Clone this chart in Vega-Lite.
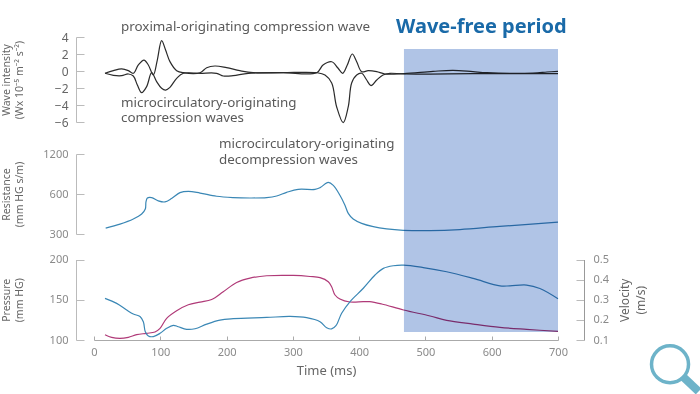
{
"$schema":"https://vega.github.io/schema/vega-lite/v6.json",
"width":464,"height":340,
"autosize":{"type":"none"},
"padding":{"left":94,"top":0,"right":142,"bottom":54},
"background":"white",
"config":{"view":{"stroke":null},"font":"Noto Sans"},
"datasets":{
"wave":[
{"time":16.6,"w":-0.27,"s":"proximal"},{"time":29.2,"w":0.04,"s":"proximal"},{"time":41.7,"w":0.24,"s":"proximal"},{"time":51.8,"w":0.04,"s":"proximal"},{"time":59.3,"w":-0.27,"s":"proximal"},{"time":66.9,"w":0.71,"s":"proximal"},{"time":75.4,"w":1.29,"s":"proximal"},{"time":82,"w":0.71,"s":"proximal"},{"time":89.5,"w":-0.47,"s":"proximal"},{"time":95.5,"w":1.29,"s":"proximal"},{"time":102,"w":3.57,"s":"proximal"},{"time":108,"w":2.47,"s":"proximal"},{"time":114.6,"w":1.1,"s":"proximal"},{"time":124.7,"w":0.04,"s":"proximal"},{"time":134.8,"w":-0.2,"s":"proximal"},{"time":160,"w":-0.2,"s":"proximal"},{"time":170,"w":0.39,"s":"proximal"},{"time":182.5,"w":0.59,"s":"proximal"},{"time":200,"w":0.39,"s":"proximal"},{"time":220,"w":0.04,"s":"proximal"},{"time":240,"w":-0.2,"s":"proximal"},{"time":285.6,"w":-0.2,"s":"proximal"},{"time":336,"w":-0.2,"s":"proximal"},{"time":345.5,"w":0.7,"s":"proximal"},{"time":358.6,"w":1.09,"s":"proximal"},{"time":368,"w":0.35,"s":"proximal"},{"time":375.2,"w":-0.27,"s":"proximal"},{"time":382.1,"w":0.7,"s":"proximal"},{"time":389.6,"w":2.0,"s":"proximal"},{"time":396.3,"w":1.09,"s":"proximal"},{"time":403.8,"w":-0.08,"s":"proximal"},{"time":413.8,"w":0.04,"s":"proximal"},{"time":426.5,"w":-0.08,"s":"proximal"},{"time":439,"w":-0.35,"s":"proximal"},{"time":467.6,"w":-0.3,"s":"proximal"},{"time":511.4,"w":-0.04,"s":"proximal"},{"time":541.6,"w":0.08,"s":"proximal"},{"time":571.7,"w":-0.08,"s":"proximal"},{"time":592.8,"w":-0.2,"s":"proximal"},{"time":662.2,"w":-0.24,"s":"proximal"},{"time":683.4,"w":-0.12,"s":"proximal"},{"time":700,"w":-0.04,"s":"proximal"},
{"time":16.6,"w":-0.27,"s":"micro"},{"time":29.2,"w":-0.51,"s":"micro"},{"time":41.7,"w":-0.55,"s":"micro"},{"time":51.8,"w":-0.35,"s":"micro"},{"time":59.3,"w":-0.59,"s":"micro"},{"time":65.4,"w":-1.65,"s":"micro"},{"time":71.9,"w":-2.55,"s":"micro"},{"time":79.4,"w":-1.84,"s":"micro"},{"time":87,"w":-0.2,"s":"micro"},{"time":94.5,"w":-1.25,"s":"micro"},{"time":102,"w":-2.04,"s":"micro"},{"time":108,"w":-2.24,"s":"micro"},{"time":114.6,"w":-1.92,"s":"micro"},{"time":124.7,"w":-0.86,"s":"micro"},{"time":134.8,"w":-0.27,"s":"micro"},{"time":160,"w":-0.27,"s":"micro"},{"time":185,"w":-0.27,"s":"micro"},{"time":195,"w":-0.59,"s":"micro"},{"time":210,"w":-0.55,"s":"micro"},{"time":232.8,"w":-0.27,"s":"micro"},{"time":285.6,"w":-0.2,"s":"micro"},{"time":336,"w":-0.2,"s":"micro"},{"time":348.5,"w":-0.47,"s":"micro"},{"time":358.6,"w":-1.41,"s":"micro"},{"time":366,"w":-4.2,"s":"micro"},{"time":376,"w":-6.08,"s":"micro"},{"time":383.6,"w":-4.2,"s":"micro"},{"time":388.7,"w":-1.41,"s":"micro"},{"time":396.3,"w":-0.47,"s":"micro"},{"time":403.8,"w":-0.27,"s":"micro"},{"time":411.4,"w":-1.06,"s":"micro"},{"time":417.9,"w":-1.73,"s":"micro"},{"time":426.5,"w":-1.06,"s":"micro"},{"time":436,"w":-0.47,"s":"micro"},{"time":446.5,"w":-0.27,"s":"micro"},{"time":467.6,"w":-0.35,"s":"micro"},{"time":571.7,"w":-0.32,"s":"micro"},{"time":662,"w":-0.3,"s":"micro"},{"time":700,"w":-0.3,"s":"micro"}
],
"resistance":[
{"time":17.6,"r":332},{"time":39.2,"r":356},{"time":59.3,"r":389},{"time":71.9,"r":424},{"time":77.4,"r":462},{"time":78.4,"r":523},{"time":80.5,"r":560},{"time":87,"r":564},{"time":97,"r":533},{"time":107,"r":523},{"time":117,"r":554},{"time":129.7,"r":614},{"time":142.3,"r":628},{"time":160,"r":610},{"time":185,"r":577},{"time":210,"r":564},{"time":235.3,"r":560},{"time":260.5,"r":564},{"time":275.6,"r":580},{"time":290.6,"r":617},{"time":308,"r":650},{"time":333.4,"r":650},{"time":341,"r":670},{"time":353.4,"r":733},{"time":361,"r":697},{"time":371,"r":587},{"time":378.6,"r":494},{"time":383.6,"r":429},{"time":391,"r":389},{"time":403.8,"r":361},{"time":421.3,"r":341},{"time":441.5,"r":328},{"time":466.6,"r":320},{"time":506.9,"r":318},{"time":552,"r":324},{"time":612,"r":342},{"time":700,"r":369}
],
"pressure":[
{"time":16.6,"p":106.6},{"time":26.6,"p":103.3},{"time":39.2,"p":102},{"time":51.8,"p":103.3},{"time":64.4,"p":106.6},{"time":79.4,"p":108.3},{"time":92,"p":110},{"time":99.6,"p":114.5},{"time":109.6,"p":126.9},{"time":124.7,"p":136.4},{"time":142.3,"p":143.8},{"time":160,"p":147.1},{"time":177.5,"p":150.4},{"time":195,"p":160},{"time":215.2,"p":171.5},{"time":235.3,"p":176.9},{"time":260.5,"p":179.8},{"time":300.7,"p":180.2},{"time":325.8,"p":178.9},{"time":341,"p":177.4},{"time":353.4,"p":172.4},{"time":358.5,"p":166.2},{"time":363.6,"p":155.9},{"time":371,"p":150.9},{"time":386,"p":147.2},{"time":406,"p":147.6},{"time":416,"p":147.6},{"time":434,"p":144.7},{"time":467,"p":137.3},{"time":507,"p":129.8},{"time":532,"p":124.4},{"time":572,"p":119.8},{"time":612.4,"p":115.7},{"time":652.6,"p":113.2},{"time":700,"p":110.7}
],
"velocity":[
{"time":16.6,"v":0.307},{"time":34.2,"v":0.282},{"time":49.3,"v":0.249},{"time":59.3,"v":0.229},{"time":69.4,"v":0.217},{"time":74.4,"v":0.191},{"time":77.4,"v":0.141},{"time":82,"v":0.12},{"time":89.5,"v":0.117},{"time":99.6,"v":0.133},{"time":109.6,"v":0.158},{"time":119.7,"v":0.173},{"time":127,"v":0.166},{"time":139.8,"v":0.153},{"time":152.4,"v":0.156},{"time":170,"v":0.179},{"time":190,"v":0.199},{"time":210.2,"v":0.206},{"time":260.5,"v":0.212},{"time":295.7,"v":0.217},{"time":320.8,"v":0.211},{"time":341,"v":0.191},{"time":351,"v":0.161},{"time":358.5,"v":0.155},{"time":365,"v":0.171},{"time":373.6,"v":0.233},{"time":386,"v":0.29},{"time":406.3,"v":0.357},{"time":424,"v":0.423},{"time":436.5,"v":0.456},{"time":451.5,"v":0.469},{"time":467,"v":0.472},{"time":496.7,"v":0.46},{"time":532,"v":0.439},{"time":572,"v":0.406},{"time":612.4,"v":0.369},{"time":627.4,"v":0.369},{"time":652.6,"v":0.373},{"time":672.7,"v":0.356},{"time":700,"v":0.305}
]
},
"encoding":{"x":{"field":"time","type":"quantitative","scale":{"domain":[0,700],"range":[0,464],"nice":false,"zero":false},
"axis":{"values":[0,100,200,300,400,500,600,700],"grid":false,"title":"Time (ms)","titleFont":"Noto Sans","titleFontSize":13,"titleFontWeight":"normal","titleColor":"#666666","titlePadding":7,"labelFont":"Noto Sans","labelFontSize":11,"labelColor":"#8a8a8a","labelPadding":10,"tickSize":-4,"tickColor":"#aaaaaa","domainColor":"#aaaaaa","labelFlush":false}}},
"layer":[
{"data":{"name":"wave"},"mark":{"type":"line","interpolate":"catmull-rom","color":"#2b2b2b","strokeWidth":1.2},
 "encoding":{"detail":{"field":"s"},"y":{"field":"w","type":"quantitative","scale":{"domain":[-6,4],"range":[122,37],"nice":false,"zero":false},
 "axis":{"orient":"left","offset":18,"values":[-6,-4,-2,0,2,4],"grid":false,"tickSize":-8,"labelPadding":16,"labelFontSize":12,"labelFont":"Noto Sans","labelColor":"#666666","tickColor":"#bbbbbb","domainColor":"#bbbbbb","title":["Wave intensity","(Wx 10⁻⁵ m⁻² s⁻²)"],"titleFont":"Noto Sans","titleFontSize":10.5,"titleFontWeight":"normal","titleColor":"#666666","titleX":-70,"titleAngle":-90,"titleBaseline":"middle","titleLineHeight":13}}}},
{"data":{"name":"resistance"},"mark":{"type":"line","interpolate":"catmull-rom","color":"#3a87b5","strokeWidth":1.2},
 "encoding":{"y":{"field":"r","type":"quantitative","scale":{"type":"log","base":2,"domain":[300,1200],"range":[234,154],"nice":false},
 "axis":{"orient":"left","offset":18,"values":[300,600,1200],"format":"d","grid":false,"tickSize":-8,"labelPadding":16,"labelFontSize":11,"labelFont":"Noto Sans","labelColor":"#8a8a8a","tickColor":"#bbbbbb","domainColor":"#bbbbbb","title":["Resistance","(mm HG s/m)"],"titleFont":"Noto Sans","titleFontSize":10.5,"titleFontWeight":"normal","titleColor":"#666666","titleX":-70,"titleAngle":-90,"titleBaseline":"middle","titleLineHeight":13}}}},
{"data":{"name":"pressure"},"mark":{"type":"line","interpolate":"catmull-rom","color":"#b03a78","strokeWidth":1.2},
 "encoding":{"y":{"field":"p","type":"quantitative","scale":{"domain":[100,200],"range":[340,259.5],"nice":false,"zero":false},
 "axis":{"orient":"left","offset":18,"values":[100,150,200],"grid":false,"tickSize":-8,"labelPadding":16,"labelFontSize":11,"labelFont":"Noto Sans","labelColor":"#8a8a8a","tickColor":"#bbbbbb","domainColor":"#bbbbbb","title":["Pressure","(mm HG)"],"titleFont":"Noto Sans","titleFontSize":10.5,"titleFontWeight":"normal","titleColor":"#666666","titleX":-70,"titleAngle":-90,"titleBaseline":"middle","titleLineHeight":13}}}},
{"data":{"name":"velocity"},"mark":{"type":"line","interpolate":"catmull-rom","color":"#3a87b5","strokeWidth":1.2},
 "encoding":{"y":{"field":"v","type":"quantitative","scale":{"domain":[0.1,0.5],"range":[340,259.5],"nice":false,"zero":false},
 "axis":{"orient":"right","offset":26,"values":[0.1,0.2,0.3,0.4,0.5],"format":".1f","grid":false,"tickSize":-8,"labelPadding":17,"labelFontSize":11,"labelFont":"Noto Sans","labelColor":"#8a8a8a","tickColor":"#bbbbbb","domainColor":"#999999","title":["Velocity","(m/s)"],"titleFont":"Noto Sans","titleFontSize":12,"titleFontWeight":"normal","titleColor":"#666666","titleX":40,"titleAngle":-90,"titleBaseline":"middle","titleLineHeight":16}}}},
{"data":{"values":[{"time":467.6,"time_end":700,"low":-30,"high":2.6}]},"mark":{"type":"rect","color":"#b0c4e6","blend":"multiply"},
 "encoding":{"x2":{"field":"time_end"},"y":{"field":"low","type":"quantitative","axis":null,"scale":{"domain":[-30,2.6],"range":[332,49],"nice":false,"zero":false}},"y2":{"field":"high"}}},
{"data":{"values":[
{"time":40.7,"level":5.18,"label":"proximal-originating compression wave"},
{"time":40.7,"level":-3.76,"label":"microcirculatory-originating"},
{"time":40.7,"level":-5.53,"label":"compression waves"},
{"time":188.6,"level":-8.59,"label":"microcirculatory-originating"},
{"time":188.6,"level":-10.47,"label":"decompression waves"}]},
 "mark":{"type":"text","align":"left","baseline":"middle","font":"Noto Sans","fontSize":13.4,"color":"#5a5a5a"},
 "encoding":{"text":{"field":"label"},"y":{"field":"level","type":"quantitative","axis":null,"scale":{"domain":[-6,4],"range":[122,37],"nice":false,"zero":false}}}},
{"data":{"values":[{"time":455.6,"level":5.18,"label":"Wave-free period"}]},
 "mark":{"type":"text","align":"left","baseline":"middle","font":"Noto Sans","fontSize":20,"fontWeight":"bold","color":"#1a6aa8"},
 "encoding":{"text":{"field":"label"},"y":{"field":"level","type":"quantitative","axis":null,"scale":{"domain":[-6,4],"range":[122,37],"nice":false,"zero":false}}}},
{"data":{"values":[{"time":889,"level":-36},{"time":912,"level":-37.7}]},
 "mark":{"type":"line","color":"#6db3c9","strokeWidth":8,"clip":false},
 "encoding":{"y":{"field":"level","type":"quantitative","axis":null,"scale":{"domain":[-6,4],"range":[122,37],"nice":false,"zero":false}}}},
{"data":{"values":[{"time":869,"level":-34.5}]},
 "mark":{"type":"point","shape":"circle","size":1369,"filled":false,"color":"#6db3c9","strokeWidth":3.5,"opacity":1,"clip":false},
 "encoding":{"y":{"field":"level","type":"quantitative","axis":null,"scale":{"domain":[-6,4],"range":[122,37],"nice":false,"zero":false}}}}
],
"resolve":{"scale":{"y":"independent"},"axis":{"y":"independent"}}
}
